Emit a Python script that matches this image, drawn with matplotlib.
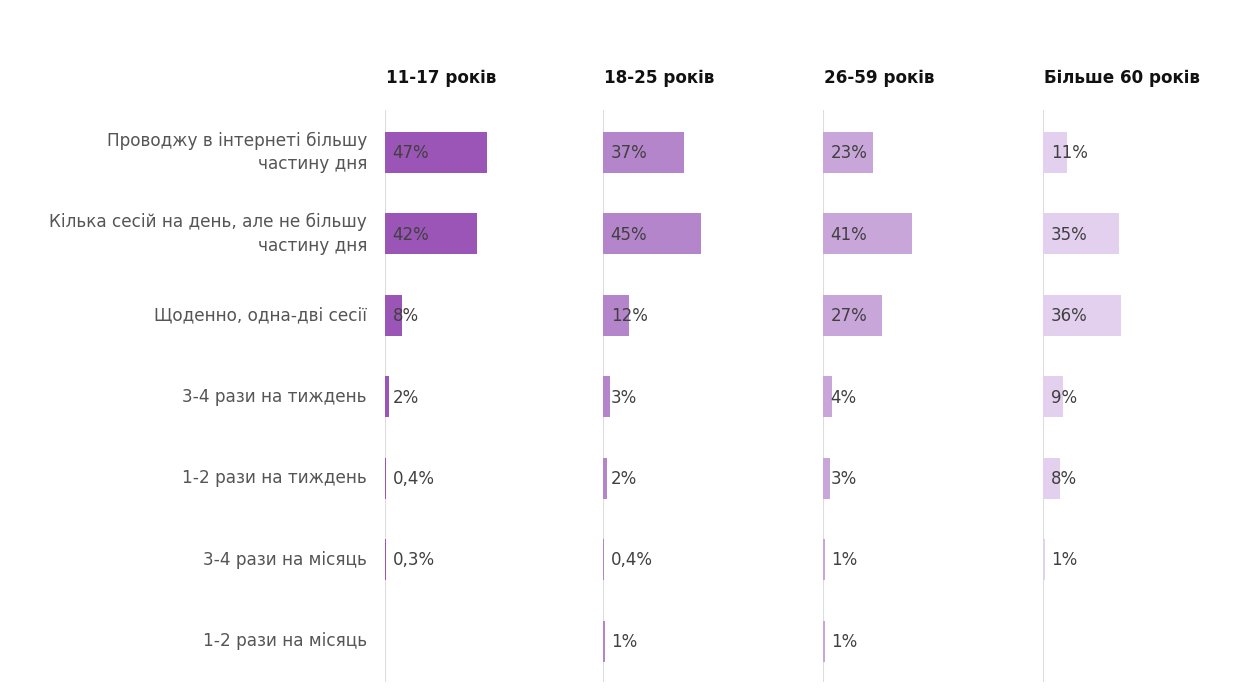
import numpy as np
import matplotlib.pyplot as plt

categories = [
    "Проводжу в інтернеті більшу\nчастину дня",
    "Кілька сесій на день, але не більшу\nчастину дня",
    "Щоденно, одна-дві сесії",
    "3-4 рази на тиждень",
    "1-2 рази на тиждень",
    "3-4 рази на місяць",
    "1-2 рази на місяць",
]
groups = ["11-17 років", "18-25 років", "26-59 років", "Більше 60 років"]

age_11_17 = [47, 42, 8, 2, 0.4, 0.3, np.nan]
age_18_25 = [37, 45, 12, 3, 2, 0.4, 1]
age_26_59 = [23, 41, 27, 4, 3, 1, 1]
age_60_plus = [11, 35, 36, 9, 8, 1, np.nan]

series = [age_11_17, age_18_25, age_26_59, age_60_plus]
colors = ["#9b55b6", "#b585cb", "#c9a6da", "#e3d0ee"]

W, H = 1241, 692
fig = plt.figure(figsize=(W / 100, H / 100), dpi=100)
fig.patch.set_facecolor("white")

lefts = [385, 603, 823, 1043]
top, bottom = 110, 682
panel_w = 218  # ~100% scale


def fmt(v):
    s = f"{v:g}".replace(".", ",")
    return s + "%"


y = np.arange(len(categories))
for i, (vals, col, name) in enumerate(zip(series, colors, groups)):
    ax = fig.add_axes([lefts[i] / W, 1 - bottom / H, panel_w / W, (bottom - top) / H])
    ax.set_xlim(0, 100)
    ax.set_ylim(6.5, -0.52)
    ax.barh(y, np.nan_to_num(vals), height=0.5, color=col, zorder=2)
    for yi, v in zip(y, vals):
        if np.isnan(v):
            continue
        ax.annotate(fmt(v), (0, yi), xytext=(5.5, -0.5), textcoords="offset points",
                    va="center", ha="left", fontsize=12, color="#404040", zorder=3)
    ax.axvline(0, color="#dcdcdc", lw=1.5, zorder=1)
    for s in ax.spines.values():
        s.set_visible(False)
    ax.set_xticks([])
    ax.set_yticks([])
    ax.patch.set_alpha(0)
    fig.text((lefts[i] + 1) / W, 1 - 78 / H, name, fontsize=12.1, fontweight="bold",
             color="#111111", ha="left", va="center")
    if i == 0:
        for yi, cat in zip(y, categories):
            ax.annotate(cat, (0, yi), xytext=(-13, 0), textcoords="offset points",
                        ha="right", va="center", fontsize=12.2, color="#555555",
                        multialignment="right", linespacing=1.38)

fig.savefig("out.png", dpi=100, facecolor="white")
